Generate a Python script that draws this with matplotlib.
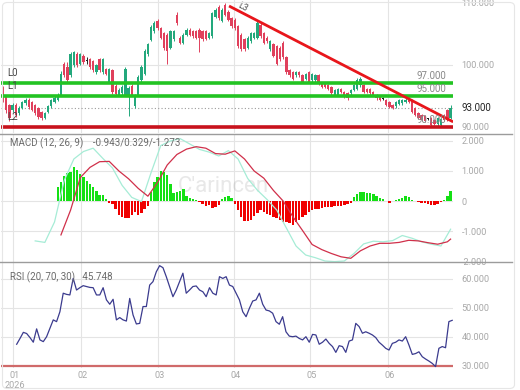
import numpy as np
import matplotlib.pyplot as plt
from matplotlib.patches import FancyBboxPatch
from matplotlib.lines import Line2D

plt.rcParams['font.family'] = ['Roboto', 'DejaVu Sans']

# daily candles (bar index 0..139)
opens = [96.2, 94.8, 93.5, 92.7, 93.5, 92.2, 93.0, 93.8, 94.4, 94.0,
         93.5, 93.0, 92.4, 91.4, 92.4, 93.3, 94.0, 94.4, 95.1, 100.1,
         99.6, 98.3, 99.9, 101.7, 100.1, 101.4, 100.6, 100.9, 100.6, 98.8,
         100.9, 98.8, 99.3, 97.2, 99.1, 96.6, 95.1, 95.4, 95.1, 95.0,
         96.6, 93.4, 95.1, 97.5, 98.5, 101.7, 104.0, 105.4, 107.1, 105.9,
         105.1, 104.9, 102.7, 104.1, 108.1, 104.4, 103.6, 104.9, 105.7, 105.4,
         105.4, 105.7, 105.4, 105.4, 104.4, 104.6, 107.8, 109.4, 107.1, 109.6,
         108.6, 107.5, 107.3, 106.2, 104.9, 104.1, 102.8, 103.8, 104.4, 104.4,
         106.5, 105.1, 104.4, 102.5, 103.3, 103.0, 102.8, 103.6, 101.2, 99.1,
         98.8, 98.3, 98.8, 98.3, 97.7, 98.8, 97.5, 97.5, 98.3, 96.9,
         96.9, 96.7, 96.4, 95.1, 95.1, 96.1, 95.6, 95.4, 95.4, 95.9,
         96.1, 96.7, 96.7, 96.1, 96.1, 95.6, 95.1, 94.8, 94.5, 94.3,
         94.0, 93.5, 93.3, 93.7, 93.8, 94.0, 94.6, 94.3, 93.0, 92.2,
         91.9, 91.7, 91.3, 91.4, 91.1, 90.5, 90.3, 91.9, 92.7, 91.4]
closes = [94.3, 92.7, 91.4, 93.5, 91.9, 93.0, 94.0, 94.4, 93.2, 92.7,
          92.2, 91.6, 91.4, 92.2, 93.3, 94.3, 94.6, 95.1, 98.6, 98.4,
          97.5, 101.8, 102.0, 99.9, 101.7, 100.4, 100.6, 99.6, 99.1, 99.9,
          99.1, 100.9, 98.5, 99.3, 95.6, 95.3, 96.0, 96.4, 99.3, 96.2,
          95.1, 95.1, 98.0, 99.6, 102.2, 103.3, 106.1, 106.7, 105.9, 104.4,
          102.7, 102.2, 105.4, 105.4, 106.7, 103.6, 104.9, 105.7, 104.9, 104.6,
          104.4, 104.4, 104.1, 104.2, 105.1, 108.3, 108.9, 107.5, 108.9, 108.1,
          107.3, 106.2, 105.9, 103.0, 102.5, 102.5, 104.4, 105.1, 105.1, 106.7,
          104.6, 103.6, 103.8, 103.8, 101.4, 100.1, 100.9, 101.2, 98.8, 98.3,
          97.7, 98.8, 98.3, 97.2, 98.5, 97.2, 98.5, 98.3, 96.9, 96.4,
          96.4, 96.1, 95.4, 95.9, 96.1, 95.6, 94.8, 94.6, 95.9, 96.7,
          97.5, 97.7, 95.6, 95.6, 95.4, 95.1, 94.6, 94.3, 94.5, 93.5,
          93.2, 93.0, 94.0, 94.3, 94.3, 94.4, 94.0, 92.4, 91.9, 91.4,
          91.1, 90.9, 91.3, 90.3, 90.5, 91.4, 91.2, 91.1, 91.1, 93.0]
highs = [96.6, 95.0, 93.7, 93.8, 93.9, 93.3, 94.2, 94.7, 94.6, 94.2,
         93.7, 93.2, 92.6, 92.4, 93.5, 94.5, 94.9, 95.4, 99.0, 100.4,
         100.4, 102.1, 102.3, 102.0, 101.9, 101.7, 101.2, 101.1, 100.8, 100.1,
         101.1, 101.1, 99.5, 99.5, 99.3, 96.9, 96.3, 96.7, 99.6, 96.6,
         96.9, 95.3, 98.3, 99.9, 102.5, 103.6, 106.4, 107.0, 107.4, 106.1,
         105.3, 105.1, 105.7, 105.6, 108.6, 104.6, 105.1, 105.9, 105.9, 105.6,
         105.6, 105.9, 105.6, 105.6, 105.3, 108.6, 109.2, 109.7, 109.2, 110.0,
         108.8, 107.7, 107.5, 106.4, 105.1, 104.3, 104.6, 105.3, 105.3, 107.0,
         106.7, 105.3, 104.6, 104.0, 103.5, 103.2, 103.0, 103.8, 101.4, 99.3,
         99.0, 99.0, 99.0, 98.5, 98.7, 99.0, 98.7, 98.5, 98.5, 97.1,
         97.1, 96.9, 96.6, 96.1, 96.3, 96.3, 95.8, 95.6, 96.1, 96.9,
         97.8, 98.1, 96.9, 96.3, 96.3, 95.8, 95.3, 95.0, 94.8, 94.5,
         94.2, 93.7, 94.2, 94.5, 94.5, 94.6, 94.8, 94.5, 93.2, 92.4,
         92.1, 91.9, 91.5, 91.6, 91.3, 91.6, 91.4, 92.1, 92.9, 93.5]
lows = [94.0, 92.3, 91.0, 92.4, 91.6, 91.9, 92.8, 93.6, 92.9, 92.5,
        91.9, 91.3, 91.1, 91.2, 92.2, 93.1, 93.8, 94.2, 94.9, 98.1,
        97.0, 98.0, 99.6, 99.6, 99.9, 100.2, 100.1, 99.4, 98.9, 98.6,
        98.9, 98.6, 98.3, 97.0, 95.3, 95.0, 94.9, 95.2, 94.9, 91.8,
        94.9, 93.0, 94.9, 97.3, 98.3, 101.5, 103.8, 105.2, 105.7, 104.2,
        102.4, 100.1, 102.5, 103.9, 106.5, 103.4, 103.4, 104.7, 104.7, 104.4,
        104.2, 102.0, 103.9, 104.0, 104.2, 104.4, 107.6, 107.3, 106.9, 107.9,
        107.1, 106.0, 105.7, 102.8, 102.3, 102.3, 102.6, 103.6, 104.2, 104.2,
        104.4, 103.4, 103.6, 102.3, 101.2, 99.9, 100.7, 101.0, 98.6, 98.1,
        97.5, 98.1, 98.1, 97.0, 97.5, 97.0, 97.3, 97.3, 96.7, 96.2,
        96.2, 95.9, 95.2, 94.9, 94.9, 95.4, 94.6, 94.4, 95.2, 95.7,
        95.9, 96.5, 95.4, 95.4, 95.2, 94.9, 94.4, 94.1, 94.3, 93.3,
        93.0, 92.8, 93.1, 93.5, 93.6, 93.8, 93.8, 92.2, 91.7, 91.2,
        90.9, 90.7, 91.1, 90.1, 90.3, 90.2, 90.1, 90.9, 90.9, 91.2]

level_values = [97, 95]
level_names = ['L0', 'L1']
support_value = 90
last_price = 93.0
trend_x = [70.2, 139.8]
trend_y = [109.5, 90.8]

# MACD histogram from bar 17
hist_values = [0.45, 0.62, 0.83, 0.92, 0.98, 1.12, 1.02, 0.89, 0.80, 0.66,
               0.55, 0.47, 0.33, 0.21, 0.20, 0.08, -0.08, -0.09, -0.28, -0.46,
               -0.52, -0.58, -0.55, -0.45, -0.35, -0.45, -0.41, -0.28, -0.18, 0.30,
               0.62, 0.80, 1.00, 0.98, 0.86, 0.55, 0.28, 0.29, 0.32, 0.40,
               0.18, 0.11, 0.08, 0.04, -0.03, -0.09, -0.17, -0.14, -0.23, -0.21,
               -0.12, 0.06, 0.12, 0.15, 0.09, -0.10, -0.30, -0.52, -0.65, -0.67,
               -0.62, -0.50, -0.40, -0.31, -0.37, -0.42, -0.47, -0.53, -0.58, -0.63,
               -0.69, -0.71, -0.74, -0.80, -0.71, -0.64, -0.53, -0.46, -0.38, -0.31,
               -0.28, -0.27, -0.24, -0.20, -0.20, -0.19, -0.18, -0.18, -0.15, -0.13,
               -0.11, -0.07, 0.13, 0.22, 0.29, 0.29, 0.28, 0.26, 0.22, 0.18,
               0.11, 0.06, 0.01, -0.06, 0.0, 0.05, 0.08, 0.11, 0.15, 0.12,
               0.05, 0.0, -0.03, -0.05, -0.07, -0.09, -0.12, -0.12, -0.09, -0.02,
               0.05, 0.15, 0.33]
# MACD line every 3 bars from bar 10
macd_values = [-1.33, -1.38, -0.70, 0.68, 1.40, 1.65, 1.76, 1.42, 1.10, 0.52,
               0.12, -0.02, 0.95, 1.85, 2.0, 2.08, 1.9, 1.72, 1.63, 1.50,
               1.68, 1.40, 0.75, 0.36, 0.05, -0.30, -0.90, -1.50, -1.80, -1.89,
               -2.0, -2.02, -2.0, -1.75, -1.43, -1.34, -1.36, -1.32, -1.15, -1.24,
               -1.36, -1.44, -1.50, -0.94]
# signal line every 3 bars from bar 18, plus last bar
signal_values = [-1.13, -0.3, 0.78, 1.12, 1.31, 1.32, 1.0, 0.74, 0.42, 0.16,
                 0.62, 1.2, 1.55, 1.73, 1.81, 1.76, 1.58, 1.56, 1.67, 1.40,
                 1.0, 0.76, 0.35, 0.0, -0.52, -0.98, -1.45, -1.62, -1.75, -1.86,
                 -1.91, -1.66, -1.50, -1.41, -1.41, -1.38, -1.31, -1.33, -1.39, -1.44,
                 -1.36, -1.27]

rsi_values = [37.5, 39.5, 41.6, 41.2, 39.8, 38.2, 42.8, 39.0, 38.4, 40.1,
              43.0, 45.9, 45.3, 48.7, 55.1, 54.7, 54.5, 60.2, 56.2, 57.0,
              57.7, 57.4, 57.1, 57.0, 54.5, 54.5, 57.0, 52.8, 51.3, 53.0,
              45.9, 46.7, 45.9, 45.5, 53.3, 47.6, 44.5, 44.7, 50.5, 50.5,
              57.9, 59.1, 62.5, 64.6, 63.9, 60.8, 57.4, 53.9, 56.2, 59.1,
              62.0, 55.1, 56.2, 57.4, 57.6, 56.2, 55.6, 53.9, 57.0, 55.1,
              54.5, 60.8, 60.2, 60.8, 57.9, 57.4, 55.1, 52.8, 48.7, 47.0,
              49.9, 52.4, 52.8, 55.1, 51.3, 49.3, 49.0, 48.2, 45.3, 44.4,
              47.0, 41.8, 40.3, 40.1, 40.3, 39.5, 39.0, 40.1, 38.2, 40.9,
              40.7, 37.5, 38.2, 39.3, 37.8, 36.7, 34.7, 37.0, 36.7, 34.7,
              38.6, 39.0, 44.7, 43.6, 41.3, 41.8, 41.3, 40.7, 39.8, 38.2,
              37.2, 36.1, 35.5, 37.8, 38.2, 39.0, 38.6, 40.1, 37.2, 34.0,
              34.3, 34.9, 33.2, 32.4, 31.7, 30.9, 29.8, 36.1, 36.7, 36.3,
              45.3, 45.748]

month_labels = ['01', '02', '03', '04', '05', '06']
month_pos = [3.1, 24.2, 48.1, 71.7, 95.3, 119.6]

W, H = 520, 390
fig = plt.figure(figsize=(5.2, 3.9), dpi=100)


def panel(top, bottom):
    return fig.add_axes([1 / W, 1 - bottom / H, 452 / W, (bottom - top) / H])


ax1 = panel(0, 133)
ax2 = panel(134, 262)
ax3 = panel(262, 368)

grid_c = '#e4e4e4'
lab_c = '#a8a8a8'
for ax in (ax1, ax2, ax3):
    ax.set_xlim(-0.62, 139.75)
    for s in ax.spines.values():
        s.set_visible(False)
    ax.set_xticks([])
    ax.tick_params(axis='y', left=False, labelleft=False, right=True, labelright=True,
                   length=0, pad=6, labelsize=6.6, labelcolor=lab_c)
    for m in month_pos:
        ax.axvline(m, color=grid_c, lw=0.8, zorder=0)

# price panel
ax1.set_ylim(89.0, 110.47)
ax1.set_yticks([90, 100, 110], ['90.000', '100.000', '110.000'])
ax1.axhline(100, color=grid_c, lw=0.8, zorder=0)
x = np.arange(len(closes))
o = np.array(opens)
c = np.array(closes)
cols = np.where(c > o, '#23a87c', np.where(c < o, '#e0405c', '#222222'))
ax1.vlines(x, lows, highs, colors=cols, lw=0.7, zorder=2)
ax1.bar(x, np.maximum(np.abs(c - o), 0.12), bottom=np.minimum(o, c), width=0.72,
        color=cols, zorder=3)
for v in level_values:
    ax1.axhline(v, color='#22c322', lw=2.6, zorder=4)
ax1.axhline(support_value, color='#c8121c', lw=2.6, zorder=4)
ax1.axhline(last_price, color='#9a9a9a', lw=0.8, ls=(0, (1, 2)), zorder=1)
ax1.plot(trend_x, trend_y, color='#e8161b', lw=2.0, zorder=5, solid_capstyle='butt')
for name, v in zip(level_names + ['L2'], level_values + [support_value]):
    ax1.annotate(name, xy=(1.2, v), xytext=(0, 5), textcoords='offset pixels',
                 va='bottom', ha='left', fontsize=7, color='#444444', zorder=6)
for v in level_values + [support_value]:
    ax1.annotate(f'{v:.3f}', xy=(128.3, v), xytext=(0, 2), textcoords='offset pixels',
                 va='bottom', ha='left', fontsize=7, color='#888888', zorder=6)
ax1.annotate(f'{last_price:.3f}', xy=(1, last_price), xycoords=('axes fraction', 'data'),
             xytext=(9, 0), textcoords='offset pixels', va='center', ha='left',
             fontsize=7, color='#222222', annotation_clip=False)
ax1.text(74.5, 109.4, 'L3', rotation=-28, fontsize=6.5, color='#555555',
         ha='center', va='center', zorder=6)

# MACD panel
ax2.set_ylim(-2.033, 2.233)
ax2.set_yticks([2, 1, 0, -1, -2], ['2.000', '1.000', '0', '-1.000', '-2.000'])
for v in [2, 1, 0, -1]:
    ax2.axhline(v, color=grid_c, lw=0.8, zorder=0)
hx = np.arange(17, 17 + len(hist_values))
hv = np.array(hist_values)
ax2.bar(hx, hv, width=0.75, color=np.where(hv >= 0, '#14e014', '#f00000'), zorder=2)
ax2.plot(np.arange(10, 140, 3), macd_values, color='#a6ecd6', lw=0.9, zorder=3)
ax2.plot(np.append(np.arange(18, 139, 3), 139), signal_values, color='#d0304a',
         lw=0.9, zorder=3)
ax2.text(0.02, 0.93, 'MACD (12, 26, 9)    -0.943/0.329/-1.273', transform=ax2.transAxes,
         fontsize=7, color='#6a6a6a', va='center', ha='left')
ax2.text(0.39, 0.59, "C'arincen", transform=ax2.transAxes, fontsize=16,
         color='#808080', alpha=0.18, va='center', ha='left', zorder=1)

# RSI panel
ax3.set_ylim(29.31, 65.86)
ax3.set_yticks([30, 40, 50, 60], ['30.000', '40.000', '50.000', '60.000'])
for v in [40, 50, 60]:
    ax3.axhline(v, color=grid_c, lw=0.8, zorder=0)
ax3.axhline(30, color='#d06a6a', lw=1.6, zorder=1)
ax3.plot(np.linspace(4.25, 139.5, len(rsi_values)), rsi_values, color='#3b3b8e',
         lw=0.9, zorder=3)
ax3.text(0.02, 0.86, 'RSI (20, 70, 30)   45.748', transform=ax3.transAxes,
         fontsize=7, color='#6a6a6a', va='center', ha='left')
for lab, m in zip(month_labels, month_pos):
    ax3.annotate(lab, xy=(m, 0), xycoords=('data', 'axes fraction'), xytext=(2, -7),
                 textcoords='offset pixels', ha='center', va='center', fontsize=6.6,
                 color=lab_c, annotation_clip=False)
ax3.annotate('2026', xy=(month_pos[0], 0), xycoords=('data', 'axes fraction'),
             xytext=(2, -17), textcoords='offset pixels', ha='center', va='center',
             fontsize=6.6, color=lab_c, annotation_clip=False)

# separators and frame
for yy in (134, 262):
    fig.add_artist(Line2D([0, 512 / W], [1 - yy / H, 1 - yy / H], color='#9c9c9c', lw=1.0))
fig.add_artist(FancyBboxPatch((2.5 / W, 1.5 / H), 512 / W, 386 / H,
                              boxstyle='round,pad=0,rounding_size=0.01',
                              fill=False, ec='#e6e6e6', lw=0.8))

fig.savefig('out.png', dpi=100)
